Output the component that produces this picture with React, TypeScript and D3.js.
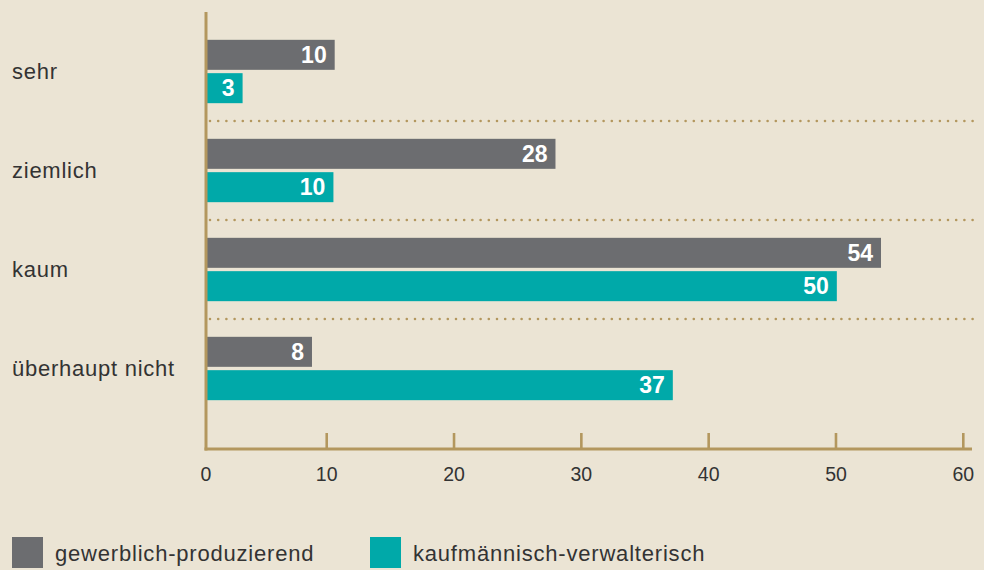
import React from "react";
import * as d3 from "d3";

const categories = ["sehr", "ziemlich", "kaum", "überhaupt nicht"];
const seriesNames = ["gewerblich-produzierend", "kaufmännisch-verwalterisch"];
const gewerblich = [10.2, 27.7, 53.5, 8.4];
const kaufmaennisch = [2.9, 10.1, 50.0, 37.0];
const tickValues = [0, 10, 20, 30, 40, 50, 60];

const W = 984;
const H = 570;
const BG = "#EBE4D4";
const GRAY = "#6C6D70";
const TEAL = "#00A9A9";
const GOLD = "#B3975E";
const TEXT = "#333333";
const FONT = "'Liberation Sans', Arial, Helvetica, sans-serif";

export default function App() {
  const axisX = 206;
  const x = d3.scaleLinear().domain([0, 60]).range([axisX, 963]);
  const xTick = d3.scaleLinear().domain([0, 60]).range([199.4, 963.3]);
  const y = d3
    .scaleBand<string>()
    .domain(categories)
    .range([22, 418])
    .paddingInner(0.36)
    .paddingOuter(0.18);
  const inner = d3
    .scaleBand<string>()
    .domain(seriesNames)
    .range([0, y.bandwidth()])
    .paddingInner(0.1);
  const color = d3.scaleOrdinal<string, string>().domain(seriesNames).range([GRAY, TEAL]);
  const series = [gewerblich, kaufmaennisch];
  const axisY = 449;

  const separators = categories.slice(0, -1).map((c, i) => {
    const end = (y(c) as number) + y.bandwidth();
    const next = y(categories[i + 1]) as number;
    return (end + next) / 2;
  });

  return (
    <div style={{ position: "absolute", left: 0, top: 0 }}>
      <svg width={W} height={H} style={{ display: "block" }}>
        <rect width={W} height={H} fill={BG} />
        {separators.map((sy, i) => (
          <line
            key={"sep" + i}
            x1={axisX + 4}
            x2={975}
            y1={sy}
            y2={sy}
            stroke={GOLD}
            strokeWidth={2.6}
            strokeLinecap="round"
            strokeDasharray="0 8.2"
          />
        ))}
        {categories.map((c, ci) => (
          <g key={c}>
            <text
              x={12}
              y={(y(c) as number) + y.bandwidth() / 2}
              dy="0.35em"
              fontFamily={FONT}
              fontSize={22}
              letterSpacing={0.75}
              fill={TEXT}
            >
              {c}
            </text>
            {seriesNames.map((s, si) => {
              const v = series[si][ci];
              const by = (y(c) as number) + (inner(s) as number);
              const bh = inner.bandwidth();
              return (
                <g key={s}>
                  <rect x={axisX + 1} y={by} width={x(v) - axisX - 1} height={bh} fill={color(s)} />
                  <text
                    x={x(v) - 8}
                    y={by + bh / 2}
                    dy="0.36em"
                    textAnchor="end"
                    fontFamily={FONT}
                    fontWeight="bold"
                    fontSize={23}
                    fill="#ffffff"
                  >
                    {Math.round(v)}
                  </text>
                </g>
              );
            })}
          </g>
        ))}
        {/* axes */}
        <line x1={axisX} x2={axisX} y1={12} y2={axisY + 1.5} stroke={GOLD} strokeWidth={3} />
        <line x1={axisX - 1.5} x2={972} y1={axisY} y2={axisY} stroke={GOLD} strokeWidth={3} />
        {tickValues.map((t) => (
          <g key={"t" + t}>
            {t !== 0 && (
              <line x1={xTick(t)} x2={xTick(t)} y1={433} y2={axisY} stroke={GOLD} strokeWidth={2.6} />
            )}
            <text
              x={t === 0 ? axisX : xTick(t)}
              y={474.5}
              dy="0.35em"
              textAnchor="middle"
              fontFamily={FONT}
              fontSize={19.5}
              fill={TEXT}
            >
              {t}
            </text>
          </g>
        ))}
        {/* legend */}
        {seriesNames.map((s, i) => {
          const lx = [12, 370][i];
          return (
            <g key={"lg" + s}>
              <rect x={lx} y={537} width={31} height={31} fill={color(s)} />
              <text x={lx + 43} y={561} fontFamily={FONT} fontSize={22} letterSpacing={0.8} fill={TEXT}>
                {s}
              </text>
            </g>
          );
        })}
      </svg>
    </div>
  );
}
